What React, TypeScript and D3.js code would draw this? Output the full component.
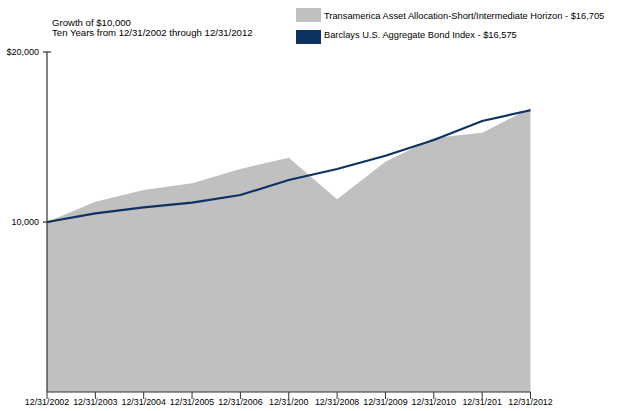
import React from "react";
import * as d3 from "d3";

const categories = [
  "12/31/2002", "12/31/2003", "12/31/2004", "12/31/2005", "12/31/2006", "12/31/200",
  "12/31/2008", "12/31/2009", "12/31/2010", "12/31/201", "12/31/2012",
];
const fundValues = [10000, 11194, 11882, 12276, 13118, 13782, 11335, 13547, 14941, 15254, 16705];
const indexValues = [10000, 10510, 10863, 11137, 11588, 12470, 13118, 13900, 14823, 15941, 16575];
const yTicks = [0, 10000, 20000];
const yTickLabels = ["", "10,000", "$20,000"];
const legendLabels = [
  "Transamerica Asset Allocation-Short/Intermediate Horizon - $16,705",
  "Barclays U.S. Aggregate Bond Index - $16,575",
];
const titleLines = ["Growth of $10,000", "Ten Years from 12/31/2002 through 12/31/2012"];

const W = 619;
const H = 411;
const FONT = "'Liberation Sans', Arial, sans-serif";
const AREA_COLOR = "#c0c0c0";
const LINE_COLOR = "#0c3262";

export default function App() {
  const x = d3.scaleLinear().domain([0, categories.length - 1]).range([47, 530.5]);
  const y = d3.scaleLinear().domain([0, 20000]).range([392, 52]);

  const area = d3
    .area<number>()
    .x((_, i) => x(i))
    .y0(y(0))
    .y1((d) => y(d));
  const line = d3
    .line<number>()
    .x((_, i) => x(i))
    .y((d) => y(d));

  return (
    <svg
      width={W}
      height={H}
      style={{ position: "absolute", left: 0, top: 0, background: "#fff" }}
      fontFamily={FONT}
    >
      {/* title */}
      {titleLines.map((t, i) => (
        <text key={i} x={52} y={26 + i * 10} fontSize={9.6} fill="#000">
          {t}
        </text>
      ))}
      {/* legend */}
      {legendLabels.map((t, i) => (
        <g key={i}>
          <rect
            x={296}
            y={8 + i * 22}
            width={25}
            height={14}
            fill={i === 0 ? AREA_COLOR : LINE_COLOR}
          />
          <text x={324} y={18.5 + i * 19.5} fontSize={9.3} fill="#000">
            {t}
          </text>
        </g>
      ))}
      {/* series */}
      <path d={area(fundValues) || ""} fill={AREA_COLOR} />
      <path d={line(indexValues) || ""} fill="none" stroke={LINE_COLOR} strokeWidth={2.2} />
      {/* y axis */}
      <line x1={47} x2={47} y1={y(20000)} y2={y(0)} stroke="#333" strokeWidth={1.2} />
      {yTicks.map((t, i) => (
        <g key={i}>
          {t > 0 && (
            <line x1={43} x2={51} y1={y(t)} y2={y(t)} stroke="#333" strokeWidth={1.2} />
          )}
          {yTickLabels[i] && (
            <text x={39} y={y(t) + 3.3} fontSize={9} textAnchor="end" fill="#000">
              {yTickLabels[i]}
            </text>
          )}
        </g>
      ))}
      {/* x axis */}
      <line x1={47} x2={530.5} y1={392} y2={392} stroke="#333" strokeWidth={1.2} />
      {categories.map((c, i) => (
        <g key={i}>
          <line x1={x(i)} x2={x(i)} y1={392} y2={399} stroke="#333" strokeWidth={1} />
          <text x={x(i)} y={404.5} fontSize={8.9} textAnchor="middle" fill="#000">
            {c}
          </text>
        </g>
      ))}
    </svg>
  );
}
